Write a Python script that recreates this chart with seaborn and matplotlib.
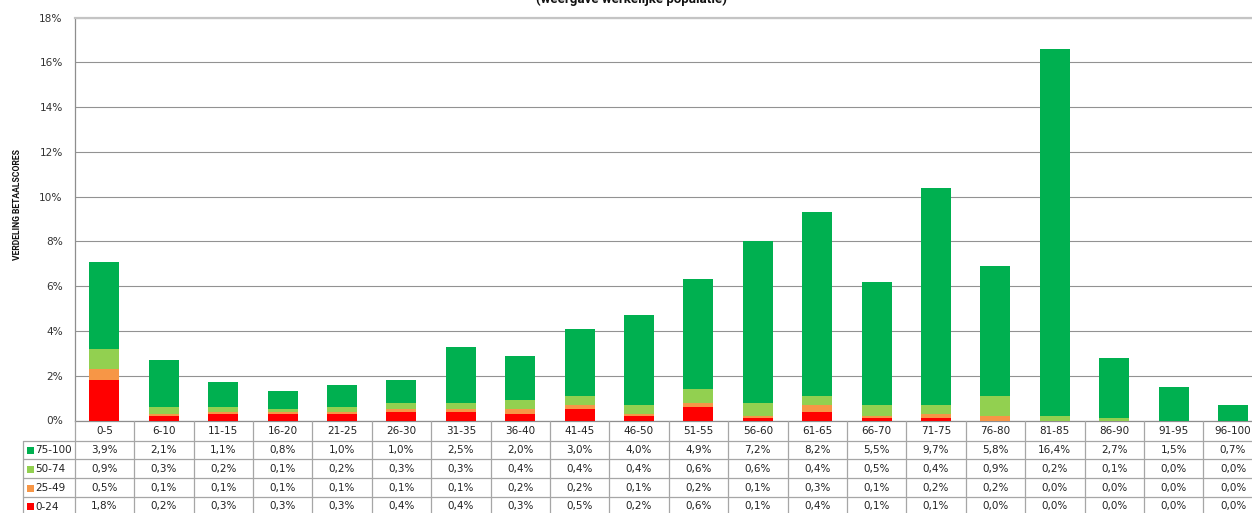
import matplotlib
matplotlib.use("Agg")
import matplotlib.pyplot as plt
from matplotlib.lines import Line2D
from matplotlib.patches import Rectangle
from matplotlib import transforms
import seaborn as sns
import numpy as np

# Score bands per payment-score bucket (percent of population)
categories = ["0-5", "6-10", "11-15", "16-20", "21-25", "26-30", "31-35", "36-40",
              "41-45", "46-50", "51-55", "56-60", "61-65", "66-70", "71-75", "76-80",
              "81-85", "86-90", "91-95", "96-100"]
band_75_100 = [3.9, 2.1, 1.1, 0.8, 1.0, 1.0, 2.5, 2.0, 3.0, 4.0,
               4.9, 7.2, 8.2, 5.5, 9.7, 5.8, 16.4, 2.7, 1.5, 0.7]
band_50_74 = [0.9, 0.3, 0.2, 0.1, 0.2, 0.3, 0.3, 0.4, 0.4, 0.4,
              0.6, 0.6, 0.4, 0.5, 0.4, 0.9, 0.2, 0.1, 0.0, 0.0]
band_25_49 = [0.5, 0.1, 0.1, 0.1, 0.1, 0.1, 0.1, 0.2, 0.2, 0.1,
              0.2, 0.1, 0.3, 0.1, 0.2, 0.2, 0.0, 0.0, 0.0, 0.0]
band_0_24 = [1.8, 0.2, 0.3, 0.3, 0.3, 0.4, 0.4, 0.3, 0.5, 0.2,
             0.6, 0.1, 0.4, 0.1, 0.1, 0.0, 0.0, 0.0, 0.0, 0.0]

band_labels = ["75-100", "50-74", "25-49", "0-24"]
band_colors = ["#00B050", "#92D050", "#F79646", "#FF0000"]
y_ticks = [0, 2, 4, 6, 8, 10, 12, 14, 16, 18]

sns.set_style("white")
plt.rcParams["font.family"] = ["DejaVu Sans"]

W, H = 1252, 513
fig = plt.figure(figsize=(W / 100, H / 100), dpi=100)

ax_left, ax_right = 74.7, 1262.7
ax_top, ax_bottom = 17.5, 420.5
ax = fig.add_axes([ax_left / W, (H - ax_bottom) / H,
                   (ax_right - ax_left) / W, (ax_bottom - ax_top) / H])

bands = [band_75_100, band_50_74, band_25_49, band_0_24]
# stacked bars: draw cumulative totals from the full stack down to the bottom band
for i, color in enumerate(band_colors):
    cum = np.sum(np.array(bands[i:]), axis=0)
    sns.barplot(x=categories, y=cum, color=color, saturation=1, width=0.505,
                ax=ax, zorder=3, linewidth=0)

ax.set_xlim(-0.5, len(categories) - 0.5)
ax.set_ylim(0, 18)
ax.set_yticks(y_ticks)
ax.set_yticklabels([f"{t}%" for t in y_ticks], fontsize=7.6, color="#333333")
ax.tick_params(axis="y", length=0, pad=8.6)
ax.set_xticks([])
ax.set_xlabel("")
ax.set_ylabel("")
ax.yaxis.grid(True, color="#929292", lw=0.8, zorder=0)
ax.set_axisbelow(True)
ax.spines["right"].set_visible(False)
ax.spines["left"].set_color("#8E8E8E")
ax.spines["left"].set_linewidth(0.9)
ax.spines["top"].set_color("#C4C4C4")
ax.spines["top"].set_linewidth(1.6)
ax.spines["bottom"].set_color("#8E8E8E")
ax.spines["bottom"].set_linewidth(0.9)


def fx(px):
    return px / W


def fy(py):
    return (H - py) / H


# data table under the plot
tr_x = transforms.blended_transform_factory(ax.transData, fig.transFigure)
grid_c = "#A6A6A6"
row_lines = [440.7, 459.0, 478.3, 497.3]
for yl in row_lines:
    fig.add_artist(Line2D([fx(23.3), 1.02], [fy(yl), fy(yl)], color=grid_c, lw=0.9))
for k in range(len(categories) + 1):
    fig.add_artist(Line2D([k - 0.5, k - 0.5], [fy(ax_bottom), fy(520)],
                          transform=tr_x, color=grid_c, lw=0.9))
fig.add_artist(Line2D([fx(23.3), fx(23.3)], [fy(440.7), fy(520)], color=grid_c, lw=0.9))

header_y = 431
row_centers = [450, 469, 488, 506.5]
for j, cat in enumerate(categories):
    fig.text(j, fy(header_y), cat, transform=tr_x, ha="center", va="center",
             fontsize=7.5, color="#222222")
for r, vals in enumerate(bands):
    for j, v in enumerate(vals):
        fig.text(j, fy(row_centers[r]), f"{v:.1f}%".replace(".", ","), transform=tr_x,
                 ha="center", va="center", fontsize=7.5, color="#222222")
    fig.add_artist(Rectangle((fx(26.7), fy(row_centers[r] + 3.5)), 7 / W, 7 / H,
                             transform=fig.transFigure, facecolor=band_colors[r],
                             edgecolor="none"))
    fig.text(fx(35.5), fy(row_centers[r]), band_labels[r], ha="left", va="center",
             fontsize=7.5, color="#222222")

fig.text(fx(18), fy(205), "VERDELING BETAALSCORES", rotation=90, ha="center",
         va="center", fontsize=6.2, fontweight="bold", color="#111111",
         family=["Roboto", "DejaVu Sans"])
fig.text(fx(631), fy(3.5), "(weergave werkelijke populatie)", ha="center",
         va="baseline", fontsize=9.5, fontweight="bold", color="#111111",
         family=["Roboto", "DejaVu Sans"])

fig.savefig("out.png", dpi=100)
